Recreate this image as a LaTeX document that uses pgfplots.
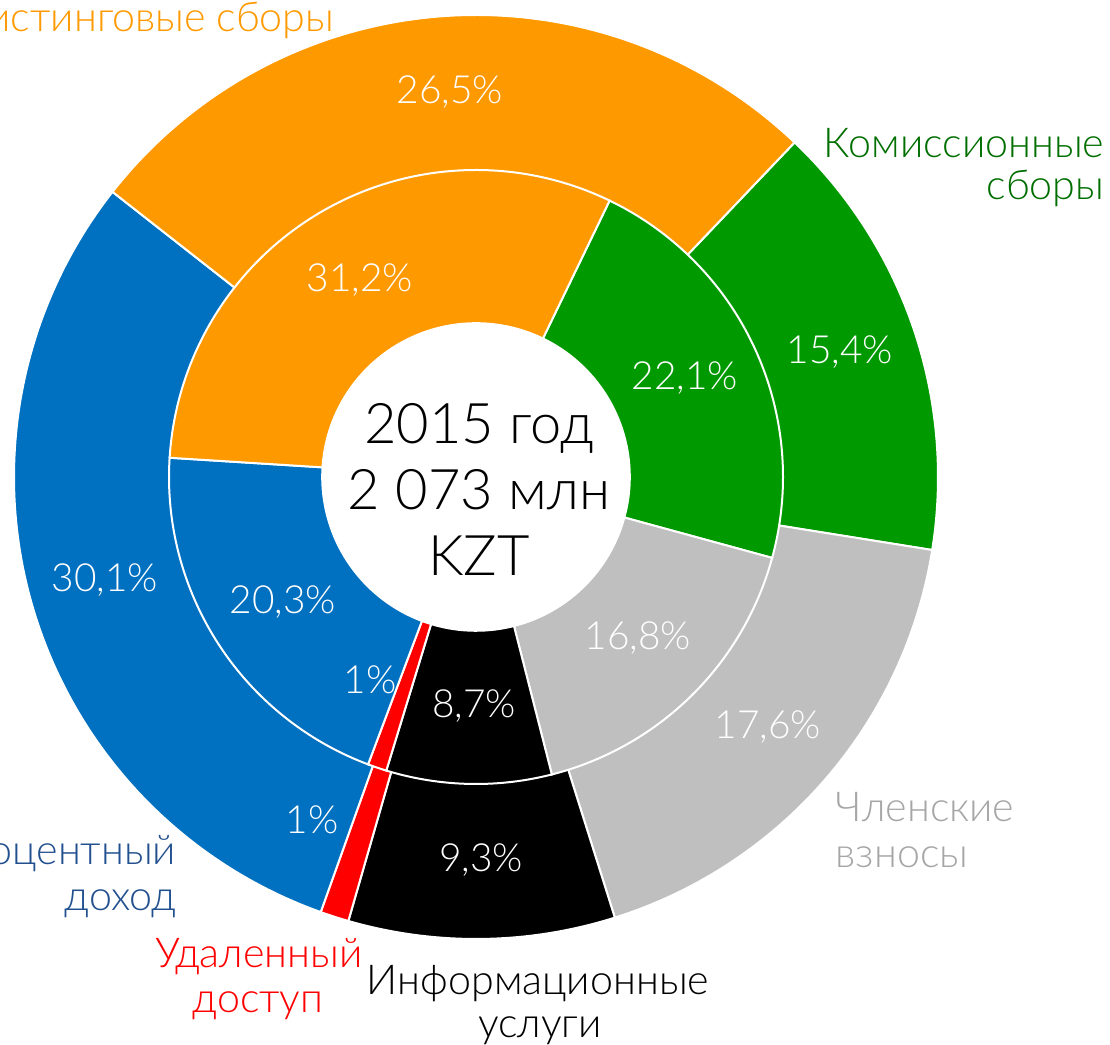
\documentclass[border=0pt]{standalone}
\usepackage{pgfplots}
\pgfplotsset{compat=1.18}
\usepackage{fontspec}
\setmainfont{Lato Light}
\definecolor{cOrange}{HTML}{FF9900}
\definecolor{cGreen}{HTML}{009900}
\definecolor{cGray}{HTML}{BFBFBF}
\definecolor{cBlue}{HTML}{0070C0}
\definecolor{cRed}{HTML}{FF0000}
\definecolor{lBlue}{HTML}{22508F}
\definecolor{lGreen}{HTML}{006E00}
\definecolor{lGray}{HTML}{A6A6A6}
% slice: colour, radius, start angle, cumulative % before, cumulative % after, ring total %
\newcommand\slice[6]{%
  \addplot[fill=#1,draw=white,line width=0.5pt,samples=120,
    domain={#3-(#5)*360/(#6)}:{#3-(#4)*360/(#6)}]
    ({476+#2*cos(x)},{568+#2*sin(x)}) -- (axis cs:476,568) -- cycle;}
\newcommand\pct{\fontsize{9.7}{11}\selectfont}
\newcommand\lbl{\fontsize{10.3}{12}\selectfont}
\begin{document}
\begin{tikzpicture}
\begin{axis}[x=0.25pt,y=0.25pt,xmin=0,xmax=1110,ymin=0,ymax=1045,
  hide axis,clip=false]
% outer ring: Комиссионные 15.4, Членские 17.6, Информационные 9.3, Удаленный 1, Процентный 30.1, Листинговые 26.5
\slice{cGreen}{462}{46.4}{0}{15.4}{99.9}
\slice{cGray}{462}{46.4}{15.4}{33.0}{99.9}
\slice{black}{462}{46.4}{33.0}{42.3}{99.9}
\slice{cRed}{462}{46.4}{42.3}{43.3}{99.9}
\slice{cBlue}{462}{46.4}{43.3}{73.4}{99.9}
\slice{cOrange}{462}{46.4}{73.4}{99.9}{99.9}
% inner ring: 22.1, 16.8, 8.7, 1, 20.3, 31.2
\slice{cGreen}{307}{64.2}{0}{22.1}{100.1}
\slice{cGray}{307}{64.2}{22.1}{38.9}{100.1}
\slice{black}{307}{64.2}{38.9}{47.6}{100.1}
\slice{cRed}{307}{64.2}{47.6}{48.6}{100.1}
\slice{cBlue}{307}{64.2}{48.6}{68.9}{100.1}
\slice{cOrange}{307}{64.2}{68.9}{100.1}{100.1}
% hole
\addplot[fill=white,draw=white,samples=180,domain=0:360]
  ({476+154*cos(x)},{568+154*sin(x)});
% percent labels
\begin{scope}[every node/.style={text=white,font=\pct}]
\node at (axis cs:450,953) {26,5\%};
\node at (axis cs:360,765) {31,2\%};
\node at (axis cs:840,693) {15,4\%};
\node at (axis cs:685,667) {22,1\%};
\node at (axis cs:105,465) {30,1\%};
\node at (axis cs:283,443) {20,3\%};
\node at (axis cs:638,407) {16,8\%};
\node at (axis cs:768,318) {17,6\%};
\node at (axis cs:370,365) {1\%};
\node at (axis cs:474,339) {8,7\%};
\node at (axis cs:312,225) {1\%};
\node at (axis cs:481,185) {9,3\%};
\end{scope}
% centre
\node[font=\fontsize{14}{16.5}\selectfont,align=center] at (axis cs:479,556)
  {2015 год\\2 073 млн\\KZT};
% category labels
\begin{scope}[every node/.style={font=\lbl,inner sep=0pt}]
\node[anchor=base east,text=cOrange] at (axis cs:335,1013) {Листинговые сборы};
\node[anchor=base east,text=lGreen] at (axis cs:1105,887) {Комиссионные};
\node[anchor=base east,text=lGreen] at (axis cs:1105,845) {сборы};
\node[anchor=base west,text=lGray] at (axis cs:835,223) {Членские};
\node[anchor=base west,text=lGray] at (axis cs:835,177) {взносы};
\node[anchor=base,text=black] at (axis cs:538,50) {Информационные};
\node[anchor=base,text=black] at (axis cs:540,7) {услуги};
\node[anchor=base,text=cRed] at (axis cs:259,77) {Удаленный};
\node[anchor=base,text=cRed] at (axis cs:258,32) {доступ};
\node[anchor=base east,text=lBlue] at (axis cs:177,180) {Процентный};
\node[anchor=base east,text=lBlue] at (axis cs:177,134) {доход};
\end{scope}
\end{axis}
\pgfresetboundingbox
\path (current axis.south west) rectangle (current axis.north east);
\end{tikzpicture}
\end{document}
